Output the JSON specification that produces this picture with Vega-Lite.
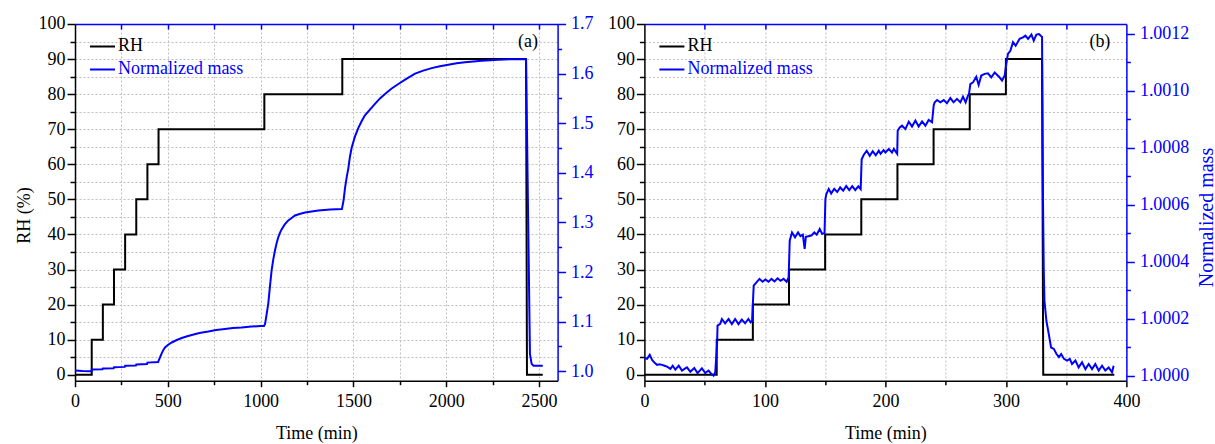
{
  "$schema": "https://vega.github.io/schema/vega-lite/v6.json",
  "padding": {"left": 15, "top": 15, "right": 0, "bottom": 0},
  "spacing": 13.4,
  "datasets": {
    "rhA": [
      {"t":0,"rh":0},{"t":90,"rh":0},{"t":90,"rh":10},{"t":150,"rh":10},{"t":150,"rh":20},{"t":210,"rh":20},{"t":210,"rh":30},{"t":270,"rh":30},{"t":270,"rh":40},{"t":330,"rh":40},{"t":330,"rh":50},{"t":390,"rh":50},{"t":390,"rh":60},{"t":450,"rh":60},{"t":450,"rh":70},{"t":1020,"rh":70},{"t":1020,"rh":80},{"t":1440,"rh":80},{"t":1440,"rh":90},{"t":2430,"rh":90},{"t":2435,"rh":0},{"t":2520,"rh":0}
    ],
    "massA": [
      {"t":0,"m":1.0015},{"t":40,"m":1.0005},{"t":89,"m":1.0},{"t":90,"m":1.0034},{"t":148,"m":1.004},{"t":150,"m":1.0054},{"t":208,"m":1.0062},{"t":210,"m":1.008},{"t":268,"m":1.0088},{"t":270,"m":1.011},{"t":328,"m":1.0118},{"t":330,"m":1.0135},{"t":388,"m":1.0148},{"t":390,"m":1.0175},{"t":448,"m":1.0188},{"t":450,"m":1.021},{"t":458,"m":1.028},{"t":467,"m":1.036},{"t":476,"m":1.043},{"t":485,"m":1.048},{"t":500,"m":1.053},{"t":521,"m":1.058},{"t":548,"m":1.063},{"t":575,"m":1.067},{"t":600,"m":1.07},{"t":629,"m":1.073},{"t":670,"m":1.077},{"t":718,"m":1.08},{"t":760,"m":1.083},{"t":808,"m":1.085},{"t":850,"m":1.087},{"t":898,"m":1.088},{"t":950,"m":1.09},{"t":1000,"m":1.091},{"t":1018,"m":1.091},{"t":1024,"m":1.0955},{"t":1032,"m":1.114},{"t":1041,"m":1.136},{"t":1050,"m":1.17},{"t":1059,"m":1.203},{"t":1068,"m":1.225},{"t":1077,"m":1.243},{"t":1086,"m":1.258},{"t":1095,"m":1.27},{"t":1104,"m":1.279},{"t":1113,"m":1.286},{"t":1130,"m":1.296},{"t":1149,"m":1.304},{"t":1167,"m":1.309},{"t":1185,"m":1.314},{"t":1210,"m":1.317},{"t":1239,"m":1.32},{"t":1275,"m":1.322},{"t":1311,"m":1.324},{"t":1375,"m":1.326},{"t":1438,"m":1.327},{"t":1447,"m":1.345},{"t":1455,"m":1.37},{"t":1464,"m":1.392},{"t":1473,"m":1.41},{"t":1481,"m":1.432},{"t":1490,"m":1.45},{"t":1508,"m":1.473},{"t":1526,"m":1.49},{"t":1544,"m":1.504},{"t":1562,"m":1.516},{"t":1590,"m":1.528},{"t":1616,"m":1.539},{"t":1643,"m":1.55},{"t":1670,"m":1.559},{"t":1706,"m":1.57},{"t":1742,"m":1.579},{"t":1787,"m":1.59},{"t":1832,"m":1.6},{"t":1876,"m":1.606},{"t":1921,"m":1.611},{"t":1966,"m":1.615},{"t":2011,"m":1.618},{"t":2056,"m":1.621},{"t":2101,"m":1.623},{"t":2191,"m":1.626},{"t":2281,"m":1.628},{"t":2350,"m":1.629},{"t":2430,"m":1.629},{"t":2451,"m":1.035},{"t":2460,"m":1.015},{"t":2470,"m":1.011},{"t":2520,"m":1.011}
    ],
    "rhB": [
      {"t":0,"rh":0},{"t":60,"rh":0},{"t":60,"rh":10},{"t":90,"rh":10},{"t":90,"rh":20},{"t":120,"rh":20},{"t":120,"rh":30},{"t":150,"rh":30},{"t":150,"rh":40},{"t":180,"rh":40},{"t":180,"rh":50},{"t":210,"rh":50},{"t":210,"rh":60},{"t":240,"rh":60},{"t":240,"rh":70},{"t":270,"rh":70},{"t":270,"rh":80},{"t":300,"rh":80},{"t":300,"rh":90},{"t":330,"rh":90},{"t":331,"rh":0},{"t":390,"rh":0}
    ],
    "massB": [
      {"t":0,"m":1.000062},{"t":2.2,"m":1.000059},{"t":4.4,"m":1.000073},{"t":6.4,"m":1.000055},{"t":8.5,"m":1.000045},{"t":10.5,"m":1.000038},{"t":12.6,"m":1.00004},{"t":14.7,"m":1.000038},{"t":16.7,"m":1.000035},{"t":18.8,"m":1.000032},{"t":21.6,"m":1.000024},{"t":23.5,"m":1.000035},{"t":25.7,"m":1.000021},{"t":28.5,"m":1.000035},{"t":31.2,"m":1.000018},{"t":33.3,"m":1.000024},{"t":35.3,"m":1.000029},{"t":38.1,"m":1.000014},{"t":41.4,"m":1.000027},{"t":44.1,"m":1.000009},{"t":47.7,"m":1.000026},{"t":50.5,"m":1.000009},{"t":53.2,"m":1.000018},{"t":55.2,"m":1.000008},{"t":57.4,"m":1.0},{"t":58.8,"m":1.000012},{"t":60.3,"m":1.00011},{"t":60.7,"m":1.000176},{"t":62.9,"m":1.000182},{"t":64.3,"m":1.000199},{"t":67,"m":1.000184},{"t":69.8,"m":1.000199},{"t":72.6,"m":1.000181},{"t":75.3,"m":1.000199},{"t":78.1,"m":1.000181},{"t":80.8,"m":1.000197},{"t":83.6,"m":1.000184},{"t":86.3,"m":1.000199},{"t":88.2,"m":1.000187},{"t":89.4,"m":1.000193},{"t":90.7,"m":1.000316},{"t":93,"m":1.000328},{"t":95.5,"m":1.00034},{"t":98,"m":1.00033},{"t":100.5,"m":1.000338},{"t":103,"m":1.00033},{"t":105.5,"m":1.00034},{"t":108,"m":1.000331},{"t":110.5,"m":1.000342},{"t":113,"m":1.000333},{"t":115.5,"m":1.00034},{"t":118,"m":1.00033},{"t":119.7,"m":1.000345},{"t":120.6,"m":1.000474},{"t":122.5,"m":1.000503},{"t":125,"m":1.000486},{"t":127.5,"m":1.000503},{"t":129.5,"m":1.00049},{"t":131.5,"m":1.000495},{"t":133,"m":1.000445},{"t":134,"m":1.000488},{"t":136,"m":1.00049},{"t":138.5,"m":1.000492},{"t":141,"m":1.000503},{"t":143,"m":1.000495},{"t":145.5,"m":1.000515},{"t":147.5,"m":1.000498},{"t":149.5,"m":1.0005},{"t":150.2,"m":1.00062},{"t":151,"m":1.000638},{"t":153,"m":1.000656},{"t":155,"m":1.00064},{"t":157.5,"m":1.000656},{"t":160,"m":1.000645},{"t":162.5,"m":1.000661},{"t":165,"m":1.00065},{"t":167.5,"m":1.000666},{"t":170,"m":1.000652},{"t":172.5,"m":1.000666},{"t":175,"m":1.000652},{"t":177.5,"m":1.000665},{"t":179.5,"m":1.000655},{"t":180.3,"m":1.00076},{"t":182,"m":1.000775},{"t":184.5,"m":1.00079},{"t":187,"m":1.000772},{"t":189.5,"m":1.000788},{"t":192,"m":1.000774},{"t":194.5,"m":1.00079},{"t":196,"m":1.000779},{"t":198.5,"m":1.000792},{"t":200,"m":1.000784},{"t":202.8,"m":1.000796},{"t":205.5,"m":1.000784},{"t":207,"m":1.000796},{"t":209.8,"m":1.000779},{"t":210.2,"m":1.00086},{"t":211.9,"m":1.000872},{"t":213.8,"m":1.000878},{"t":216.6,"m":1.000866},{"t":219.4,"m":1.000892},{"t":222.1,"m":1.000875},{"t":224.9,"m":1.000896},{"t":227.6,"m":1.000875},{"t":230.4,"m":1.000893},{"t":233.2,"m":1.000878},{"t":235.9,"m":1.000898},{"t":238.7,"m":1.00089},{"t":240.1,"m":1.00095},{"t":240.9,"m":1.00096},{"t":242.9,"m":1.000968},{"t":245.6,"m":1.00096},{"t":248.4,"m":1.000968},{"t":251.1,"m":1.000957},{"t":253.9,"m":1.000975},{"t":256.6,"m":1.00096},{"t":259.4,"m":1.000972},{"t":262.2,"m":1.00096},{"t":264.4,"m":1.00098},{"t":266.6,"m":1.00096},{"t":268.5,"m":1.000983},{"t":269.4,"m":1.00099},{"t":270.5,"m":1.001024},{"t":272.7,"m":1.00103},{"t":275.4,"m":1.00105},{"t":277.4,"m":1.001021},{"t":279.6,"m":1.001054},{"t":282.4,"m":1.00106},{"t":285.1,"m":1.001062},{"t":287.9,"m":1.001048},{"t":290.7,"m":1.001065},{"t":294.3,"m":1.00105},{"t":296.8,"m":1.001036},{"t":299,"m":1.001054},{"t":299.8,"m":1.00108},{"t":301.7,"m":1.00113},{"t":303.7,"m":1.001141},{"t":305.9,"m":1.001171},{"t":308.1,"m":1.001159},{"t":311.4,"m":1.001183},{"t":314.2,"m":1.001188},{"t":316.2,"m":1.001194},{"t":318.4,"m":1.001183},{"t":321.2,"m":1.001198},{"t":323.1,"m":1.001177},{"t":325.3,"m":1.001198},{"t":327.5,"m":1.0012},{"t":328.9,"m":1.001194},{"t":330,"m":1.00119},{"t":330.8,"m":1.000615},{"t":331.4,"m":1.00038},{"t":332,"m":1.000263},{"t":333.6,"m":1.000193},{"t":335.6,"m":1.000146},{"t":337.5,"m":1.000099},{"t":339.8,"m":1.000094},{"t":342,"m":1.000076},{"t":344,"m":1.000065},{"t":345.9,"m":1.000076},{"t":348.2,"m":1.000059},{"t":350.8,"m":1.000053},{"t":353,"m":1.000059},{"t":354.9,"m":1.000041},{"t":357.7,"m":1.000053},{"t":360.4,"m":1.000029},{"t":363.2,"m":1.000047},{"t":366,"m":1.000023},{"t":368.7,"m":1.000041},{"t":371.5,"m":1.000023},{"t":374.2,"m":1.000041},{"t":377,"m":1.000018},{"t":379.8,"m":1.000035},{"t":382.5,"m":1.000018},{"t":385.3,"m":1.000029},{"t":388.1,"m":1.000012},{"t":389.4,"m":1.000035}
    ]
  },
  "hconcat": [
    {
      "width": 482.6,
      "height": 356.7,
      "layer": [
        {
          "data": {"name": "rhA"},
          "mark": {"type": "line", "opacity": 0},
          "encoding": {
            "x": {"field": "t", "type": "quantitative", "scale": {"domain": [0, 2600], "nice": false, "zero": false},
              "axis": {"orient": "bottom", "values": [250,500,750,1000,1250,1500,1750,2000,2250,2500], "grid": true, "gridColor": "#c0c0c0", "gridDash": [2, 2], "gridWidth": 1, "tickSize": 0, "tickOpacity": 0, "labels": false, "domain": false, "title": null}},
            "y": {"field": "rh", "type": "quantitative", "scale": {"domain": [-1.7, 100], "nice": false, "zero": false},
              "axis": {"orient": "left", "values": [5,10,15,20,25,30,35,40,45,50,55,60,65,70,75,80,85,90,95], "grid": true, "gridColor": "#c0c0c0", "gridDash": [2, 2], "gridWidth": 1, "tickSize": 0, "tickOpacity": 0, "labels": false, "domain": false, "title": null}}
          }
        },
        {
          "data": {"name": "rhA"},
          "mark": {"type": "line", "opacity": 0},
          "encoding": {
            "x": {"field": "t", "type": "quantitative", "scale": {"domain": [0, 2600], "nice": false, "zero": false},
              "axis": {"orient": "bottom", "values": [250,750,1250,1750,2250], "tickSize": 4, "labels": false, "domain": false, "title": null}},
            "y": {"field": "rh", "type": "quantitative", "scale": {"domain": [-1.7, 100], "nice": false, "zero": false},
              "axis": {"orient": "left", "values": [5,15,25,35,45,55,65,75,85,95], "tickSize": 5, "labels": false, "domain": false, "title": null}}
          }
        },
        {
          "data": {"name": "massA"},
          "mark": {"type": "line", "opacity": 0},
          "encoding": {
            "x": {"field": "t", "type": "quantitative", "scale": {"domain": [0, 2600], "nice": false, "zero": false}, "axis": null},
            "y": {"field": "m", "type": "quantitative", "scale": {"domain": [0.981, 1.7], "nice": false, "zero": false},
              "axis": {"orient": "right", "values": [1.05,1.15,1.25,1.35,1.45,1.55,1.65], "tickSize": 4, "tickColor": "#0000ff", "labels": false, "domain": false, "title": null}}
          }
        },
        {
          "data": {"name": "rhA"},
          "mark": {"type": "line", "strokeWidth": 2},
          "encoding": {
            "x": {"field": "t", "type": "quantitative", "scale": {"domain": [0, 2600], "nice": false, "zero": false},
              "axis": {"orient": "bottom", "values": [0,500,1000,1500,2000,2500], "format": "d", "tickSize": 6, "labelPadding": 6, "title": "Time (min)", "titlePadding": 14}},
            "y": {"field": "rh", "type": "quantitative", "scale": {"domain": [-1.7, 100], "nice": false, "zero": false},
              "axis": {"orient": "left", "values": [0,10,20,30,40,50,60,70,80,90,100], "tickSize": 8, "labelPadding": 2, "title": "RH (%)", "titlePadding": 5, "titleY": 191}},
            "color": {"datum": "RH", "type": "nominal", "scale": {"domain": ["RH", "Normalized mass"], "range": ["#000000", "#0000ff"]},
              "legend": {"orient": "none", "legendX": 14, "legendY": 9, "title": null, "symbolType": "stroke", "symbolSize": 625, "symbolStrokeWidth": 2, "labelFont": "Liberation Serif", "labelFontSize": 18, "labelOffset": 2, "rowPadding": 0, "padding": 0,
                "encode": {"labels": {"update": {"fill": {"signal": "datum.value === 'RH' ? '#000000' : '#0000ff'"}}}}}}
          }
        },
        {
          "data": {"name": "massA"},
          "mark": {"type": "line", "strokeWidth": 2},
          "encoding": {
            "x": {"field": "t", "type": "quantitative", "scale": {"domain": [0, 2600], "nice": false, "zero": false},
              "axis": {"orient": "top", "values": [250,500,750,1000,1250,1500,1750,2000,2250,2500], "tickSize": -5, "labels": false, "domainColor": "#0000ff", "tickColor": "#0000ff", "title": null}},
            "y": {"field": "m", "type": "quantitative", "scale": {"domain": [0.981, 1.7], "nice": false, "zero": false},
              "axis": {"orient": "right", "values": [1.0,1.1,1.2,1.3,1.4,1.5,1.6,1.7], "format": ".1f", "tickSize": 8, "labelPadding": 5, "labelColor": "#0000ff", "domainColor": "#0000ff", "tickColor": "#0000ff", "title": null}},
            "color": {"datum": "Normalized mass", "type": "nominal"}
          }
        },
        {
          "data": {"values": [{}]},
          "mark": {"type": "text", "font": "Liberation Serif", "fontSize": 18, "color": "#000000"},
          "encoding": {
            "x": {"datum": 2440, "type": "quantitative", "scale": {"domain": [0, 2600], "nice": false, "zero": false}, "axis": null},
            "y": {"datum": 95, "type": "quantitative", "scale": {"domain": [-1.7, 100], "nice": false, "zero": false}, "axis": null},
            "text": {"value": "(a)"}
          }
        }
      ],
      "resolve": {"scale": {"x": "independent", "y": "independent"}, "axis": {"x": "independent", "y": "independent"}}
    },
    {
      "width": 482,
      "height": 356.7,
      "layer": [
        {
          "data": {"name": "rhB"},
          "mark": {"type": "line", "opacity": 0},
          "encoding": {
            "x": {"field": "t", "type": "quantitative", "scale": {"domain": [0, 400], "nice": false, "zero": false},
              "axis": {"orient": "bottom", "values": [50,100,150,200,250,300,350], "grid": true, "gridColor": "#c0c0c0", "gridDash": [2, 2], "gridWidth": 1, "tickSize": 0, "tickOpacity": 0, "labels": false, "domain": false, "title": null}},
            "y": {"field": "rh", "type": "quantitative", "scale": {"domain": [-1.7, 100], "nice": false, "zero": false},
              "axis": {"orient": "left", "values": [5,10,15,20,25,30,35,40,45,50,55,60,65,70,75,80,85,90,95], "grid": true, "gridColor": "#c0c0c0", "gridDash": [2, 2], "gridWidth": 1, "tickSize": 0, "tickOpacity": 0, "labels": false, "domain": false, "title": null}}
          }
        },
        {
          "data": {"name": "rhB"},
          "mark": {"type": "line", "opacity": 0},
          "encoding": {
            "x": {"field": "t", "type": "quantitative", "scale": {"domain": [0, 400], "nice": false, "zero": false},
              "axis": {"orient": "bottom", "values": [50,150,250,350], "tickSize": 4, "labels": false, "domain": false, "title": null}},
            "y": {"field": "rh", "type": "quantitative", "scale": {"domain": [-1.7, 100], "nice": false, "zero": false},
              "axis": {"orient": "left", "values": [5,15,25,35,45,55,65,75,85,95], "tickSize": 5, "labels": false, "domain": false, "title": null}}
          }
        },
        {
          "data": {"name": "massB"},
          "mark": {"type": "line", "opacity": 0},
          "encoding": {
            "x": {"field": "t", "type": "quantitative", "scale": {"domain": [0, 400], "nice": false, "zero": false}, "axis": null},
            "y": {"field": "m", "type": "quantitative", "scale": {"domain": [0.9999824, 1.0012351], "nice": false, "zero": false},
              "axis": {"orient": "right", "values": [1.0001,1.0003,1.0005,1.0007,1.0009,1.0011], "tickSize": 4, "tickColor": "#0000ff", "labels": false, "domain": false, "title": null}}
          }
        },
        {
          "data": {"name": "rhB"},
          "mark": {"type": "line", "strokeWidth": 2},
          "encoding": {
            "x": {"field": "t", "type": "quantitative", "scale": {"domain": [0, 400], "nice": false, "zero": false},
              "axis": {"orient": "bottom", "values": [0,100,200,300,400], "format": "d", "tickSize": 6, "labelPadding": 6, "title": "Time (min)", "titlePadding": 14}},
            "y": {"field": "rh", "type": "quantitative", "scale": {"domain": [-1.7, 100], "nice": false, "zero": false},
              "axis": {"orient": "left", "values": [0,10,20,30,40,50,60,70,80,90,100], "tickSize": 8, "labelPadding": 2, "title": null}},
            "color": {"datum": "RH", "type": "nominal", "scale": {"domain": ["RH", "Normalized mass"], "range": ["#000000", "#0000ff"]},
              "legend": {"orient": "none", "legendX": 14, "legendY": 9, "title": null, "symbolType": "stroke", "symbolSize": 625, "symbolStrokeWidth": 2, "labelFont": "Liberation Serif", "labelFontSize": 18, "labelOffset": 2, "rowPadding": 0, "padding": 0,
                "encode": {"labels": {"update": {"fill": {"signal": "datum.value === 'RH' ? '#000000' : '#0000ff'"}}}}}}
          }
        },
        {
          "data": {"name": "massB"},
          "mark": {"type": "line", "strokeWidth": 2},
          "encoding": {
            "x": {"field": "t", "type": "quantitative", "scale": {"domain": [0, 400], "nice": false, "zero": false},
              "axis": {"orient": "top", "values": [50,100,150,200,250,300,350], "tickSize": -5, "labels": false, "domainColor": "#0000ff", "tickColor": "#0000ff", "title": null}},
            "y": {"field": "m", "type": "quantitative", "scale": {"domain": [0.9999824, 1.0012351], "nice": false, "zero": false},
              "axis": {"orient": "right", "values": [1.0,1.0002,1.0004,1.0006,1.0008,1.001,1.0012], "format": ".4f", "tickSize": 8, "labelPadding": 5, "labelColor": "#0000ff", "domainColor": "#0000ff", "tickColor": "#0000ff",
                "title": "Normalized mass", "titleColor": "#0000ff", "titleFontSize": 20, "titleAngle": 270, "titleBaseline": "top", "titlePadding": 8, "titleY": 193}},
            "color": {"datum": "Normalized mass", "type": "nominal"}
          }
        },
        {
          "data": {"values": [{}]},
          "mark": {"type": "text", "font": "Liberation Serif", "fontSize": 18, "color": "#000000"},
          "encoding": {
            "x": {"datum": 378, "type": "quantitative", "scale": {"domain": [0, 400], "nice": false, "zero": false}, "axis": null},
            "y": {"datum": 95, "type": "quantitative", "scale": {"domain": [-1.7, 100], "nice": false, "zero": false}, "axis": null},
            "text": {"value": "(b)"}
          }
        }
      ],
      "resolve": {"scale": {"x": "independent", "y": "independent"}, "axis": {"x": "independent", "y": "independent"}}
    }
  ],
  "resolve": {"scale": {"color": "independent"}, "legend": {"color": "independent"}},
  "config": {
    "view": {"stroke": null},
    "font": "Liberation Serif",
    "axis": {"labelFont": "Liberation Serif", "titleFont": "Liberation Serif", "labelFontSize": 18, "titleFontSize": 18, "titleFontWeight": "normal", "labelColor": "#000000", "titleColor": "#000000", "domainColor": "#000000", "tickColor": "#000000", "domainWidth": 1.5, "tickWidth": 1.5, "labelOverlap": false, "labelFlush": false, "labelBound": false},
    "legend": {"labelFont": "Liberation Serif", "labelFontSize": 18}
  }
}
